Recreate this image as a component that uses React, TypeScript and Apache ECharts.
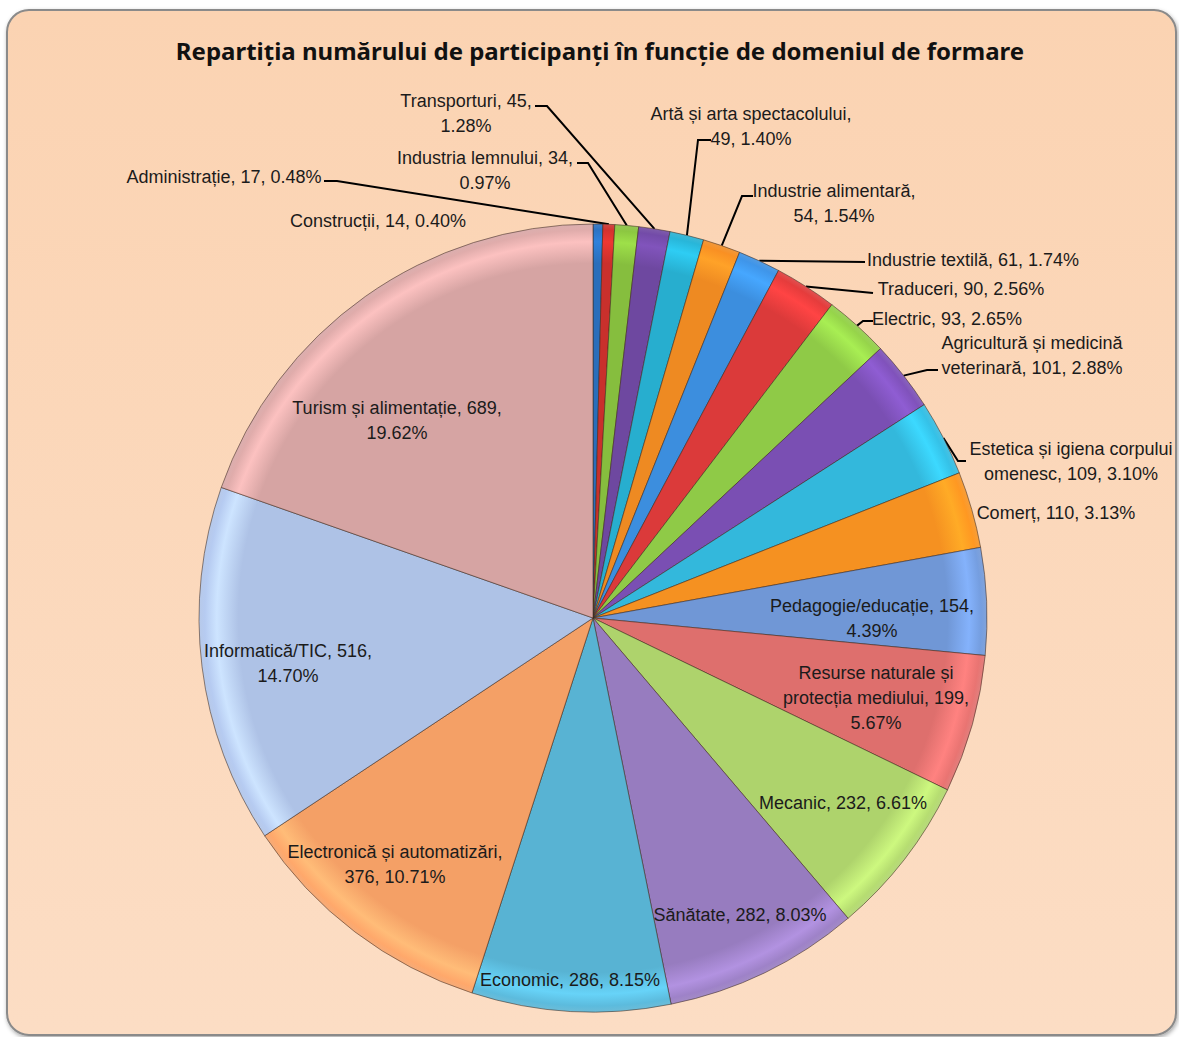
import React, { useEffect, useRef } from "react";
import * as echarts from "echarts";

// ---------- data ----------
const titleText =
  "Repartiția numărului de participanți în funcție de domeniul de formare";

const categories = [
  "Construcții",
  "Administrație",
  "Industria lemnului",
  "Transporturi",
  "Artă și arta spectacolului",
  "Industrie alimentară",
  "Industrie textilă",
  "Traduceri",
  "Electric",
  "Agricultură și medicină veterinară",
  "Estetica și igiena corpului omenesc",
  "Comerț",
  "Pedagogie/educație",
  "Resurse naturale și protecția mediului",
  "Mecanic",
  "Sănătate",
  "Economic",
  "Electronică și automatizări",
  "Informatică/TIC",
  "Turism și alimentație",
];

const values = [
  14, 17, 34, 45, 49, 54, 61, 90, 93, 101, 109, 110, 154, 199, 232, 282, 286,
  376, 516, 689,
];

// ---------- styles / layout ----------
const colors = [
  "#2A6EBB",
  "#C9302C",
  "#86BE3E",
  "#6E48A0",
  "#27AECF",
  "#EE8A22",
  "#3C8EDE",
  "#DB3A3A",
  "#8FCA47",
  "#7A4FB3",
  "#33B8DC",
  "#F59121",
  "#7097D6",
  "#DE6F6D",
  "#AED36C",
  "#977CBF",
  "#58B3D3",
  "#F4A066",
  "#AEC2E6",
  "#D6A4A3",
];

// number of words on each wrapped line (the rest goes on the last line)
const lineWords: number[][] = [
  [], [], [3], [2], [4], [2], [], [], [], [3],
  [4], [], [2], [3, 3], [], [], [], [3], [2], [4],
];

// label centre positions
const labelSpots: [number, number][] = [
  [378, 221],
  [224, 177],
  [485, 170],
  [466, 113],
  [751, 126],
  [834, 203],
  [973, 260],
  [961, 289],
  [947, 319],
  [1032, 355],
  [1071, 461],
  [1056, 513],
  [872, 618],
  [876, 698],
  [843, 803],
  [740, 915],
  [570, 980],
  [395, 864],
  [288, 663],
  [397, 420],
];

// leader line points after the slice edge (elbow, end)
const leaders: ([number, number][] | null)[] = [
  null,
  [[337, 181], [324, 181]],
  [[588, 163], [577, 163]],
  [[547, 106], [535, 106]],
  [[698, 140], [711, 140]],
  [[742, 196], [753, 196]],
  [[865, 262]],
  [[873, 293]],
  [[863, 321], [873, 321]],
  [[927, 370], [938, 370]],
  [[958, 461], [966, 461]],
  null,
  null, null, null, null, null, null, null, null,
];

const insideFrom = 12;
const labelFont = "'Liberation Sans', Arial, sans-serif";

export default function App() {
  const ref = useRef<HTMLDivElement>(null);

  useEffect(() => {
    if (!ref.current) return;
    const chart = echarts.init(ref.current, null, { renderer: "svg" });

    const total = values.reduce((a, b) => a + b, 0);
    const pct = (v: number) => ((v / total) * 100).toFixed(2);
    const labelText = (i: number) => {
      const words = `${categories[i]}, ${values[i]}, ${pct(values[i])}%`.split(" ");
      const lines: string[] = [];
      let k = 0;
      for (const n of lineWords[i]) {
        lines.push(words.slice(k, k + n).join(" "));
        k += n;
      }
      lines.push(words.slice(k).join(" "));
      return lines.join("\n");
    };

    const cx = 593;
    const cy = 618;
    const R = 394;

    // fallback: edge point at the middle angle of each slice
    const edgePoint = (i: number): [number, number] => {
      let before = 0;
      for (let j = 0; j < i; j++) before += values[j];
      const a = ((before + values[i] / 2) / total) * Math.PI * 2;
      return [cx + R * Math.sin(a), cy - R * Math.cos(a)];
    };

    // soft bevel: rim highlight + darker edge, shared centre
    const bevel = (c: string) => ({
      type: "radial",
      x: cx,
      y: cy,
      r: R,
      global: true,
      colorStops: [
        { offset: 0, color: c },
        { offset: 0.9, color: c },
        { offset: 0.955, color: echarts.color.lift(c, -0.18) as string },
        { offset: 0.985, color: echarts.color.lift(c, -0.05) as string },
        { offset: 1, color: echarts.color.lift(c, 0.12) as string },
      ],
    });

    const data = categories.map((name, i) => ({
      name,
      value: values[i],
      itemStyle: { color: bevel(colors[i]) },
      label: { position: i >= insideFrom ? "inside" : "outside" },
      labelLine: { show: leaders[i] != null },
    }));

    chart.setOption({
      animation: false,
      title: {
        text: titleText,
        left: 595,
        textAlign: "center",
        top: 33,
        textStyle: {
          fontFamily: "'Noto Sans', sans-serif",
          fontWeight: "bold",
          fontSize: 24,
          color: "#111",
        },
      },
      graphic: [
        {
          type: "rect",
          z: -10,
          shape: { x: 7, y: 10, width: 1169, height: 1025, r: 22 },
          style: {
            fill: {
              type: "linear",
              x: 0,
              y: 0,
              x2: 0,
              y2: 1,
              colorStops: [
                { offset: 0, color: "#FBD3B2" },
                { offset: 1, color: "#FCDDC4" },
              ],
            },
            stroke: "#8a8a8a",
            lineWidth: 2,
            shadowBlur: 4,
            shadowOffsetX: 1,
            shadowOffsetY: 2,
            shadowColor: "rgba(0,0,0,0.35)",
          },
        },
      ],
      series: [
        {
          type: "pie",
          center: [cx, cy],
          radius: R,
          startAngle: 90,
          clockwise: true,
          avoidLabelOverlap: false,
          emphasis: { disabled: true },
          data,
          itemStyle: {
            borderColor: "rgba(60,40,30,0.55)",
            borderWidth: 1,
          },
          label: {
            show: true,
            formatter: (p: any) => labelText(p.dataIndex),
            fontFamily: labelFont,
            fontSize: 18,
            lineHeight: 25,
            color: "#1b1b1b",
            width: 420,
            overflow: "none",
          },
          labelLine: {
            length: 8,
            length2: 8,
            lineStyle: { color: "#000", width: 2 },
          },
          labelLayout: (p: any) => {
            const i = p.dataIndex;
            const [x, y] = labelSpots[i];
            const res: any = { x, y, align: "center", verticalAlign: "middle" };
            const lead = leaders[i];
            if (lead) {
              const start =
                p.labelLinePoints && p.labelLinePoints[0]
                  ? [p.labelLinePoints[0][0], p.labelLinePoints[0][1]]
                  : edgePoint(i);
              res.labelLinePoints = [start, ...lead];
            }
            return res;
          },
        },
      ],
    });

    return () => chart.dispose();
  }, []);

  return (
    <div
      ref={ref}
      style={{ position: "absolute", left: 0, top: 0, width: 1179, height: 1037 }}
    />
  );
}
